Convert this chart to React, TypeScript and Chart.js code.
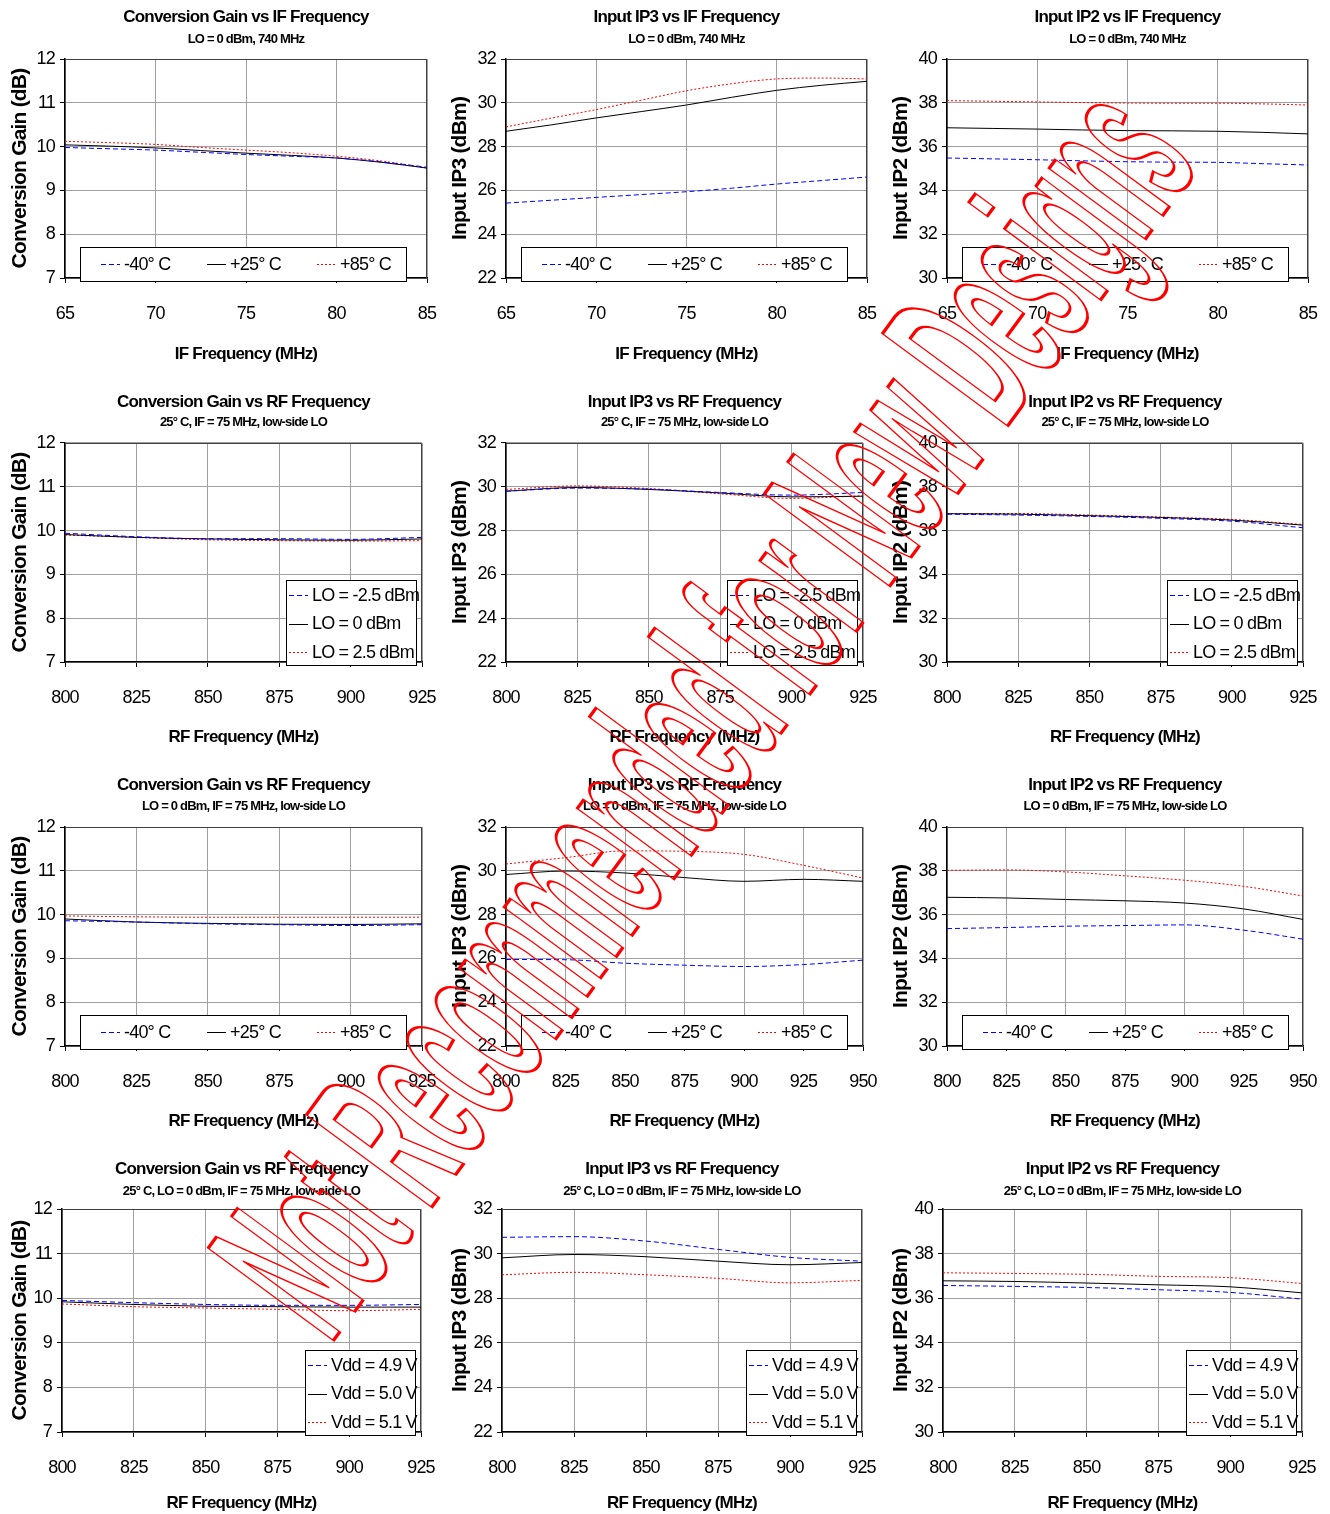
import React, { useEffect, useRef } from 'react';
import { Chart, registerables } from 'chart.js';

Chart.register(...registerables);

// ---------------- data ----------------
const IF_FREQ = [65, 67.5, 70, 72.5, 75, 77.5, 80, 82.5, 85];
const RF_FREQ = [800, 825, 850, 875, 900, 925];
const RF_FREQ_WIDE = [800, 825, 850, 875, 900, 925, 950];

const TEMP_LABELS = ['-40° C', '+25° C', '+85° C'];
const LO_LABELS = ['LO = -2.5 dBm', 'LO = 0 dBm', 'LO = 2.5 dBm'];
const VDD_LABELS = ['Vdd = 4.9 V', 'Vdd = 5.0 V', 'Vdd = 5.1 V'];

const CG_IF_M40 = [9.98, 9.95, 9.92, 9.87, 9.82, 9.78, 9.74, 9.65, 9.53];
const CG_IF_P25 = [10.04, 10.01, 9.97, 9.91, 9.85, 9.8, 9.74, 9.64, 9.51];
const CG_IF_P85 = [10.12, 10.09, 10.05, 9.98, 9.92, 9.86, 9.78, 9.67, 9.51];
const IP3_IF_M40 = [25.42, 25.55, 25.68, 25.81, 25.94, 26.1, 26.29, 26.45, 26.61];
const IP3_IF_P25 = [28.7, 28.99, 29.31, 29.6, 29.9, 30.25, 30.57, 30.8, 30.98];
const IP3_IF_P85 = [28.9, 29.3, 29.69, 30.12, 30.55, 30.87, 31.09, 31.13, 31.09];
const IP2_IF_M40 = [35.48, 35.44, 35.4, 35.35, 35.31, 35.29, 35.28, 35.22, 35.16];
const IP2_IF_P25 = [36.86, 36.83, 36.8, 36.76, 36.73, 36.72, 36.7, 36.65, 36.58];
const IP2_IF_P85 = [38.1, 38.07, 38.04, 38.01, 37.99, 37.98, 37.98, 37.95, 37.9];

const CG_RF_LOM25 = [9.94, 9.86, 9.815, 9.815, 9.8, 9.845];
const CG_RF_LO0 = [9.91, 9.845, 9.81, 9.79, 9.78, 9.81];
const CG_RF_LOP25 = [9.9, 9.845, 9.79, 9.77, 9.76, 9.77];
const IP3_RF_LOM25 = [29.8, 29.94, 29.89, 29.74, 29.62, 29.74];
const IP3_RF_LO0 = [29.8, 29.97, 29.88, 29.72, 29.54, 29.57];
const IP3_RF_LOP25 = [29.88, 30.04, 29.92, 29.68, 29.47, 29.59];
const IP2_RF_LOM25 = [36.75, 36.71, 36.65, 36.56, 36.43, 36.13];
const IP2_RF_LO0 = [36.77, 36.75, 36.68, 36.6, 36.48, 36.25];
const IP2_RF_LOP25 = [36.78, 36.78, 36.71, 36.62, 36.51, 36.28];

const CG_RF_M40 = [9.86, 9.83, 9.79, 9.77, 9.75, 9.77];
const CG_RF_P25 = [9.9, 9.83, 9.8, 9.78, 9.775, 9.79];
const CG_RF_P85 = [9.97, 9.95, 9.94, 9.94, 9.94, 9.94];
const IP3_RF_M40 = [25.95, 25.94, 25.78, 25.69, 25.63, 25.72, 25.92];
const IP3_RF_P25 = [29.83, 29.99, 29.9, 29.69, 29.52, 29.61, 29.52];
const IP3_RF_P85 = [30.31, 30.6, 30.91, 30.89, 30.75, 30.25, 29.67];
const IP2_RF_M40 = [35.36, 35.41, 35.47, 35.5, 35.53, 35.29, 34.88];
const IP2_RF_P25 = [36.79, 36.76, 36.69, 36.63, 36.53, 36.26, 35.78];
const IP2_RF_P85 = [38.02, 38.04, 37.95, 37.77, 37.57, 37.29, 36.85];

const CG_RF_V49 = [9.95, 9.9, 9.86, 9.84, 9.84, 9.86];
const CG_RF_V50 = [9.92, 9.86, 9.82, 9.81, 9.8, 9.8];
const CG_RF_V51 = [9.87, 9.81, 9.78, 9.75, 9.72, 9.75];
const IP3_RF_V49 = [30.73, 30.76, 30.56, 30.19, 29.83, 29.66];
const IP3_RF_V50 = [29.81, 29.96, 29.86, 29.66, 29.5, 29.6];
const IP3_RF_V51 = [29.05, 29.16, 29.05, 28.89, 28.69, 28.8];
const IP2_RF_V49 = [36.57, 36.53, 36.48, 36.38, 36.26, 35.96];
const IP2_RF_V50 = [36.78, 36.75, 36.68, 36.6, 36.51, 36.24];
const IP2_RF_V51 = [37.14, 37.11, 37.07, 36.98, 36.92, 36.66];

const TITLES_IF = ['Conversion Gain vs IF Frequency', 'Input IP3 vs IF Frequency', 'Input IP2 vs IF Frequency'];
const TITLES_RF = ['Conversion Gain vs RF Frequency', 'Input IP3 vs RF Frequency', 'Input IP2 vs RF Frequency'];
const SUBTITLES = [
  'LO = 0 dBm, 740 MHz',
  '25° C, IF = 75 MHz, low-side LO',
  'LO = 0 dBm, IF = 75 MHz, low-side LO',
  '25° C, LO = 0 dBm, IF = 75 MHz, low-side LO',
];
const Y_TITLES = ['Conversion Gain (dB)', 'Input IP3 (dBm)', 'Input IP2 (dBm)'];
const X_TITLES = ['IF Frequency (MHz)', 'RF Frequency (MHz)'];
const Y_RANGES = [[7, 12, 1], [22, 32, 2], [30, 40, 2]];

const WATERMARK = 'Not Recommended for New Designs';

// ---------------- layout / style ----------------
const FONT = "'Liberation Sans', Arial, Helvetica, sans-serif";
const GRID = '#a0a0a0';
const STYLES = [
  { color: '#0000ff', dash: [5, 3] },
  { color: '#000000', dash: [] as number[] },
  { color: '#ff0000', dash: [2, 2] },
];
const COL_LEFT = [0, 440, 880];
const COL_W = [440, 440, 450];
const ROW_TOP = [0, 383, 766, 1149];
const ROW_H = [383, 383, 383, 365];
const PLOT_T = [59, 443, 827, 1209];
const PLOT_B = [278, 662, 1046, 1432];
const PLOT_L = [[65, 506, 947], [65, 506, 947], [65, 506, 947], [62, 502, 943]];
const PLOT_R = [[427, 867, 1308], [422, 863, 1303], [422, 863, 1303], [421, 862, 1302]];
const TITLE_Y = [17.5, 402, 785, 1169];
const SUB_Y = [39, 422.5, 806.5, 1191];
const XTITLE_Y = [354, 737.3, 1121.7, 1504];
const YTITLE_X = [20, 20.5, 21.5];

type PanelDef = {
  row: number;
  col: number;
  x: number[];
  series: number[][];
  labels: string[];
  xMin: number;
  xMax: number;
  xStep: number;
  legend: 'row' | 'col';
};

const PANELS: PanelDef[] = [
  { row: 0, col: 0, x: IF_FREQ, series: [CG_IF_M40, CG_IF_P25, CG_IF_P85], labels: TEMP_LABELS, xMin: 65, xMax: 85, xStep: 5, legend: 'row' },
  { row: 0, col: 1, x: IF_FREQ, series: [IP3_IF_M40, IP3_IF_P25, IP3_IF_P85], labels: TEMP_LABELS, xMin: 65, xMax: 85, xStep: 5, legend: 'row' },
  { row: 0, col: 2, x: IF_FREQ, series: [IP2_IF_M40, IP2_IF_P25, IP2_IF_P85], labels: TEMP_LABELS, xMin: 65, xMax: 85, xStep: 5, legend: 'row' },
  { row: 1, col: 0, x: RF_FREQ, series: [CG_RF_LOM25, CG_RF_LO0, CG_RF_LOP25], labels: LO_LABELS, xMin: 800, xMax: 925, xStep: 25, legend: 'col' },
  { row: 1, col: 1, x: RF_FREQ, series: [IP3_RF_LOM25, IP3_RF_LO0, IP3_RF_LOP25], labels: LO_LABELS, xMin: 800, xMax: 925, xStep: 25, legend: 'col' },
  { row: 1, col: 2, x: RF_FREQ, series: [IP2_RF_LOM25, IP2_RF_LO0, IP2_RF_LOP25], labels: LO_LABELS, xMin: 800, xMax: 925, xStep: 25, legend: 'col' },
  { row: 2, col: 0, x: RF_FREQ, series: [CG_RF_M40, CG_RF_P25, CG_RF_P85], labels: TEMP_LABELS, xMin: 800, xMax: 925, xStep: 25, legend: 'row' },
  { row: 2, col: 1, x: RF_FREQ_WIDE, series: [IP3_RF_M40, IP3_RF_P25, IP3_RF_P85], labels: TEMP_LABELS, xMin: 800, xMax: 950, xStep: 25, legend: 'row' },
  { row: 2, col: 2, x: RF_FREQ_WIDE, series: [IP2_RF_M40, IP2_RF_P25, IP2_RF_P85], labels: TEMP_LABELS, xMin: 800, xMax: 950, xStep: 25, legend: 'row' },
  { row: 3, col: 0, x: RF_FREQ, series: [CG_RF_V49, CG_RF_V50, CG_RF_V51], labels: VDD_LABELS, xMin: 800, xMax: 925, xStep: 25, legend: 'col' },
  { row: 3, col: 1, x: RF_FREQ, series: [IP3_RF_V49, IP3_RF_V50, IP3_RF_V51], labels: VDD_LABELS, xMin: 800, xMax: 925, xStep: 25, legend: 'col' },
  { row: 3, col: 2, x: RF_FREQ, series: [IP2_RF_V49, IP2_RF_V50, IP2_RF_V51], labels: VDD_LABELS, xMin: 800, xMax: 925, xStep: 25, legend: 'col' },
];

// letter spacing to mimic the tight Excel text
const spacingPlugin = {
  id: 'tightText',
  beforeDraw(chart: any) {
    (chart.ctx as any).letterSpacing = '-0.8px';
  },
};

const boxLegendPlugin = {
  id: 'boxLegend',
  beforeDatasetsDraw(chart: any) {
    const { ctx, chartArea: ca } = chart;
    ctx.save();
    ctx.strokeStyle = '#404040';
    ctx.lineWidth = 1;
    ctx.beginPath();
    ctx.moveTo(ca.left, ca.top + 0.5);
    ctx.lineTo(ca.right - 0.5, ca.top + 0.5);
    ctx.lineTo(ca.right - 0.5, ca.bottom);
    ctx.stroke();
    ctx.restore();
  },
  afterDatasetsDraw(chart: any, _args: any, opts: any) {
    const { ctx, chartArea: ca } = chart;
    const kind = opts.kind;
    let bx: number, by: number, bw: number, bh: number;
    if (kind === 'row') {
      bx = ca.left + 15;
      bw = 326;
      by = ca.bottom - 31;
      bh = 34;
    } else {
      bw = opts.width;
      bh = 85;
      bx = ca.right - 6 - bw;
      by = ca.bottom + 3 - bh;
    }
    ctx.save();
    ctx.fillStyle = '#ffffff';
    ctx.fillRect(bx, by, bw, bh);
    ctx.strokeStyle = '#000000';
    ctx.lineWidth = 1;
    ctx.setLineDash([]);
    ctx.strokeRect(Math.round(bx) + 0.5, Math.round(by) + 0.5, bw, bh);
    chart.data.datasets.forEach((ds: any, i: number) => {
      let sx: number, sy: number;
      if (kind === 'row') {
        sx = bx + [21, 127, 237][i];
        sy = by + bh / 2;
      } else {
        sx = bx + 3;
        sy = by + 15 + i * 28.5;
      }
      ctx.setLineDash(ds.borderDash || []);
      ctx.strokeStyle = ds.borderColor;
      ctx.lineWidth = 1;
      ctx.beginPath();
      ctx.moveTo(sx, Math.round(sy) + 0.5);
      ctx.lineTo(sx + 19, Math.round(sy) + 0.5);
      ctx.stroke();
      ctx.setLineDash([]);
      ctx.fillStyle = '#000000';
      ctx.font = `18px ${FONT}`;
      ctx.textBaseline = 'middle';
      ctx.textAlign = 'left';
      ctx.fillText(ds.label, sx + 23, sy + 1);
    });
    ctx.restore();
  },
};

function PanelChart({ p }: { p: PanelDef }) {
  const ref = useRef<HTMLCanvasElement | null>(null);
  const left = COL_LEFT[p.col];
  const top = ROW_TOP[p.row];
  const w = COL_W[p.col];
  const h = ROW_H[p.row];

  useEffect(() => {
    if (!ref.current) return;
    const r = p.row;
    const c = p.col;
    const plotL = PLOT_L[r][c];
    const plotR = PLOT_R[r][c];
    const plotT = PLOT_T[r];
    const plotB = PLOT_B[r];
    const titleLH = 17 * 1.2;
    const subLH = 13 * 1.2;
    const titlePadTop = TITLE_Y[r] - top - titleLH / 2;
    const titleBottom = TITLE_Y[r] + titleLH / 2;
    const subPadTop = SUB_Y[r] - subLH / 2 - titleBottom;
    const subPadBottom = plotT - (SUB_Y[r] + subLH / 2);
    const xTitleLH = 17 * 1.2;
    const xTitlePadBottom = Math.max(0, top + h - XTITLE_Y[r] - xTitleLH / 2);
    const yTitleLH = 21 * 1.2;
    const yTitlePadTop = YTITLE_X[c] - yTitleLH / 2;
    const [yMin, yMax, yStep] = Y_RANGES[c];

    const datasets = p.series.map((ys, i) => ({
      label: p.labels[i],
      data: p.x.map((xv, k) => ({ x: xv, y: ys[k] })),
      borderColor: STYLES[i].color,
      borderDash: STYLES[i].dash,
      borderWidth: 1,
      pointRadius: 0,
      fill: false,
      tension: 0.4,
      cubicInterpolationMode: 'monotone' as const,
    }));

    const chart = new Chart(ref.current, {
      type: 'line',
      data: { datasets },
      plugins: [spacingPlugin, boxLegendPlugin],
      options: {
        animation: false,
        responsive: false,
        devicePixelRatio: 1,
        events: [],
        layout: { padding: { top: 0, left: 0, bottom: 0, right: left + w - plotR } },
        plugins: {
          legend: { display: false },
          tooltip: { enabled: false },
          title: {
            display: true,
            text: r === 0 ? TITLES_IF[c] : TITLES_RF[c],
            fullSize: false,
            color: '#000',
            font: { family: FONT, size: 17, weight: 'bold', lineHeight: 1.2 },
            padding: { top: titlePadTop, bottom: 0 },
          },
          subtitle: {
            display: true,
            text: SUBTITLES[r],
            fullSize: false,
            color: '#000',
            font: { family: FONT, size: 13, weight: 'bold', lineHeight: 1.2 },
            padding: { top: subPadTop, bottom: subPadBottom },
          },
          boxLegend: { kind: p.legend, width: r === 3 ? 110 : 130 },
        } as any,
        scales: {
          x: {
            type: 'linear',
            min: p.xMin,
            max: p.xMax,
            ticks: {
              stepSize: p.xStep,
              color: '#000',
              font: { family: FONT, size: 18 },
              padding: 20,
              maxRotation: 0,
              autoSkip: false,
            },
            grid: { color: GRID, tickColor: '#000', tickLength: 5, lineWidth: 1 },
            border: { color: '#000', width: 1.5 },
            title: {
              display: true,
              text: r === 0 ? X_TITLES[0] : X_TITLES[1],
              color: '#000',
              font: { family: FONT, size: 17, weight: 'bold', lineHeight: 1.2 },
              padding: { top: 0, bottom: xTitlePadBottom },
            },
            afterFit: (s: any) => {
              s.height = top + h - plotB;
              s.paddingLeft = 0;
              s.paddingRight = 0;
            },
          },
          y: {
            type: 'linear',
            min: yMin,
            max: yMax,
            ticks: {
              stepSize: yStep,
              color: '#000',
              font: { family: FONT, size: 18 },
              padding: 5,
            },
            grid: { color: GRID, tickColor: '#000', tickLength: 5, lineWidth: 1 },
            border: { color: '#000', width: 1.5 },
            title: {
              display: true,
              text: Y_TITLES[c],
              color: '#000',
              font: { family: FONT, size: 21, weight: 'bold', lineHeight: 1.2 },
              padding: { top: yTitlePadTop, bottom: 0 },
            },
            afterFit: (s: any) => {
              s.width = plotL - left;
              s.paddingTop = 0;
              s.paddingBottom = 0;
            },
          },
        },
      } as any,
    });
    return () => chart.destroy();
  }, []);

  return (
    <canvas
      ref={ref}
      width={w}
      height={h}
      style={{ position: 'absolute', left, top, width: w, height: h, display: 'block' }}
    />
  );
}

export default function App() {
  return (
    <div
      style={{
        position: 'absolute',
        left: 0,
        top: 0,
        width: 1330,
        height: 1514,
        background: '#ffffff',
        overflow: 'hidden',
      }}
    >
      {PANELS.map((p, i) => (
        <PanelChart key={i} p={p} />
      ))}
      <svg
        width={1330}
        height={1514}
        style={{ position: 'absolute', left: 0, top: 0, pointerEvents: 'none' }}
      >
        <text
          transform="translate(330,1345) rotate(-53.6) scale(0.377,1)"
          fontFamily={FONT}
          fontWeight="bold"
          fontSize={226}
          fill="none"
          stroke="#ff0000"
          strokeWidth={2.5}
          vectorEffect="non-scaling-stroke"
        >
          {WATERMARK}
        </text>
      </svg>
    </div>
  );
}
